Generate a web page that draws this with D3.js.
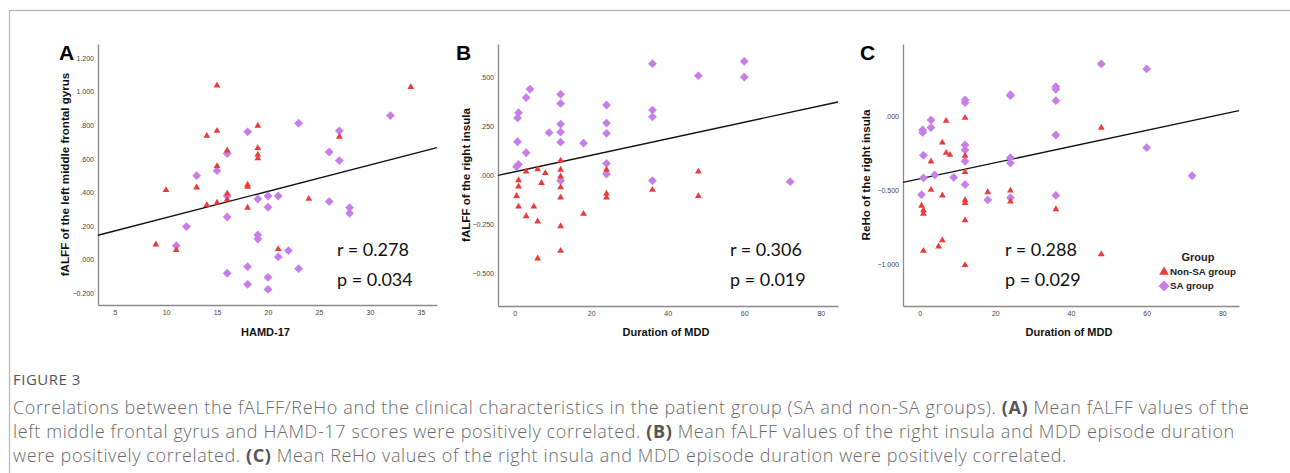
<!DOCTYPE html>
<html>
<head>
<meta charset="utf-8">
<script src="https://cdn.jsdelivr.net/npm/d3@7"></script>
<style>
  body { margin: 0; background: #fff; }
  svg { display: block; }
</style>
</head>
<body>
<svg id="fig" width="1290" height="473"></svg>
<script>
// panel A : HAMD-17 vs fALFF left middle frontal gyrus
let aNonSA = [[15,1.04],[34,1.03],[19,0.80],[15,0.77],[14,0.74],[27,0.735],[16,0.653],[19,0.667],
              [19,0.628],[19,0.606],[15,0.56],[10,0.417],[13,0.433],[18,0.449],[18,0.437],[16,0.397],
              [16,0.361],[14,0.328],[15,0.342],[18,0.312],[24,0.365],[9,0.093],[11,0.06],[21,0.066]]
let aSA = [[32,0.858],[23,0.812],[18,0.761],[27,0.767],[16,0.632],[26,0.641],[27,0.59],[13,0.5],
           [15,0.53],[16,0.379],[19,0.361],[20,0.379],[21,0.379],[20,0.312],[26,0.346],[28,0.31],
           [28,0.276],[16,0.254],[12,0.197],[11,0.083],[19,0.147],[19,0.123],[22,0.054],[21,0.016],
           [23,-0.054],[18,-0.042],[16,-0.081],[20,-0.105],[18,-0.147],[20,-0.177]]

// panel B : duration of MDD vs fALFF right insula
let bNonSA = [[12,0.078],[12,0.031],[12,-0.003],[12,-0.058],[12,-0.11],[12,-0.256],[12,-0.381],
              [3,0.022],[6,0.034],[8,0.014],[7,-0.036],[1,-0.022],[1,-0.054],[0.5,-0.102],[1,-0.156],
              [5,-0.156],[3,-0.205],[6,-0.232],[6,-0.42],[18,-0.193],[24,0.031],[24,-0.09],[24,-0.11],
              [36,-0.071],[48,0.022],[48,-0.103]]
let bSA = [[36,0.568],[60,0.58],[60,0.5],[48,0.507],[4,0.439],[3,0.395],[12,0.412],[12,0.366],
           [1,0.319],[0.75,0.292],[24,0.358],[36,0.332],[36,0.298],[12,0.261],[24,0.266],[9,0.217],
           [12,0.22],[24,0.214],[0.75,0.171],[12,0.169],[18,0.164],[3,0.115],[24,0.061],[1,0.056],
           [0.5,0.044],[24,0.007],[12,-0.027],[36,-0.027],[72,-0.032]]

// panel C : duration of MDD vs ReHo right insula
let cNonSA = [[12,-0.005],[7,-0.025],[48,-0.072],[6,-0.172],[7,-0.242],[8,-0.255],[12,-0.262],
              [3,-0.3],[12,-0.372],[3,-0.492],[6,-0.53],[18,-0.508],[24,-0.497],[24,-0.571],
              [12,-0.562],[12,-0.582],[0.5,-0.6],[1,-0.63],[1,-0.655],[36,-0.623],[12,-0.698],
              [6,-0.833],[5,-0.876],[1,-0.905],[48,-0.928],[12,-1.002]]
let cSA = [[48,0.357],[60,0.323],[36,0.203],[36,0.185],[24,0.149],[24,0.142],[12,0.113],[12,0.095],
           [36,0.108],[3,-0.023],[3,-0.074],[0.8,-0.09],[0.8,-0.108],[36,-0.124],[12,-0.192],
           [12,-0.226],[60,-0.21],[1,-0.262],[24,-0.278],[24,-0.314],[12,-0.302],[4,-0.395],
           [1,-0.415],[9,-0.411],[72,-0.4],[12,-0.46],[0.5,-0.528],[36,-0.533],[18,-0.564],[24,-0.549]]

// fit lines [intercept, slope]
let aFit = [0.093, 0.0157]
let bFit = [0.0183, 0.0042]
let cFit = [-0.421, 0.00547]

let aXTicks = [5, 10, 15, 20, 25, 30, 35]
let aYTicks = [-0.2, 0, 0.2, 0.4, 0.6, 0.8, 1.0, 1.2]
let bXTicks = [0, 20, 40, 60, 80]
let bYTicks = [-0.5, -0.25, 0, 0.25, 0.5]
let cXTicks = [0, 20, 40, 60, 80]
let cYTicks = [-1.0, -0.5, 0]

let stats = [["r = 0.278", "p = 0.034"], ["r = 0.306", "p = 0.019"], ["r = 0.288", "p = 0.029"]]

let red = "#ef3a3c"
let purple = "#c77ee8"

let svg = d3.select("#fig")

// figure frame
svg.append("rect")
   .attr("x", 9.5).attr("y", 10.5)
   .attr("width", 1400).attr("height", 600)
   .attr("fill", "none").attr("stroke", "#b5b5b5").attr("stroke-width", 1.2)

// SPSS style number format: .200, -.250, 1.000
let spss = (d) => {
    let s = d3.format(".3f")(d)
    return s.replace(/^0\./, ".").replace(/^-0\./, "-.")
}

let panels = [
    {label: "A", nonSA: aNonSA, sa: aSA, fit: aFit, xt: aXTicks, yt: aYTicks,
     left: 98, right: 437, top: 44, bottom: 305, xd: [3.33, 36.57], yd: [-0.27, 1.284],
     ytitle: "fALFF of the left middle frontal gyrus", xtitle: "HAMD-17",
     labelX: 59, ytitleX: 69, statX: 337},
    {label: "B", nonSA: bNonSA, sa: bSA, fit: bFit, xt: bXTicks, yt: bYTicks,
     left: 498, right: 838, top: 44, bottom: 306, xd: [-4.36, 84.5], yd: [-0.664, 0.668],
     ytitle: "fALFF of the right insula", xtitle: "Duration of MDD",
     labelX: 456, ytitleX: 470, statX: 730},
    {label: "C", nonSA: cNonSA, sa: cSA, fit: cFit, xt: cXTicks, yt: cYTicks,
     left: 903, right: 1239, top: 44, bottom: 306, xd: [-4.4, 84.4], yd: [-1.282, 0.492],
     ytitle: "ReHo of the right insula", xtitle: "Duration of MDD",
     labelX: 860, ytitleX: 870, statX: 1005}
]

let triangle = d3.symbol().type(d3.symbolTriangle).size(20)
let diamond = (r) => "M0," + (-r) + "L" + r + ",0L0," + r + "L" + (-r) + ",0Z"

let drawPanel = (p, i) => {
    let x = d3.scaleLinear().domain(p.xd).range([p.left, p.right])
    let y = d3.scaleLinear().domain(p.yd).range([p.bottom, p.top])
    let g = svg.append("g")

    let xAxis = d3.axisBottom(x).tickValues(p.xt).tickSize(0).tickPadding(5)
    let yAxis = d3.axisLeft(y).tickValues(p.yt).tickSize(0).tickPadding(4).tickFormat(spss)

    let gx = g.append("g")
              .attr("transform", "translate(0," + p.bottom + ")")
              .call(xAxis)
    let gy = g.append("g")
              .attr("transform", "translate(" + p.left + ",0)")
              .call(yAxis)
    ;[gx, gy].forEach((ax) => {
        ax.select(".domain").attr("stroke", "#8a8a8a").attr("stroke-width", 1.3)
        ax.selectAll("text")
          .attr("font-family", "Arial, 'Liberation Sans', sans-serif")
          .attr("font-size", 7).attr("fill", "#444")
    })

    // regression line
    g.append("line")
     .attr("x1", x(p.xd[0])).attr("y1", y(p.fit[0] + p.fit[1] * p.xd[0]))
     .attr("x2", x(p.xd[1])).attr("y2", y(p.fit[0] + p.fit[1] * p.xd[1]))
     .attr("stroke", "#111").attr("stroke-width", 1.4)

    g.selectAll(".sa")
     .data(p.sa)
     .enter()
     .append("path")
     .attr("class", "sa")
     .attr("d", diamond(4.4))
     .attr("fill", purple)
     .attr("transform", (d) => "translate(" + x(d[0]) + "," + y(d[1]) + ")")

    g.selectAll(".nonsa")
     .data(p.nonSA)
     .enter()
     .append("path")
     .attr("class", "nonsa")
     .attr("d", triangle)
     .attr("fill", red)
     .attr("transform", (d) => "translate(" + x(d[0]) + "," + (y(d[1]) + 0.5) + ")")

    // panel letter
    g.append("text")
     .attr("x", p.labelX).attr("y", 60)
     .attr("font-family", "Arial, 'Liberation Sans', sans-serif")
     .attr("font-weight", "bold").attr("font-size", 21)
     .text(p.label)

    // axis titles
    g.append("text")
     .attr("transform", "translate(" + p.ytitleX + "," + ((p.top + p.bottom) / 2) + ") rotate(-90)")
     .attr("text-anchor", "middle")
     .attr("font-family", "Arial, 'Liberation Sans', sans-serif")
     .attr("font-weight", "bold").attr("font-size", 11.6).attr("fill", "#111")
     .text(p.ytitle)

    g.append("text")
     .attr("x", (p.left + p.right) / 2 - 2).attr("y", 336)
     .attr("text-anchor", "middle")
     .attr("font-family", "Arial, 'Liberation Sans', sans-serif")
     .attr("font-weight", "bold").attr("font-size", 11).attr("fill", "#111")
     .text(p.xtitle)

    // r and p
    stats[i].forEach((s, k) => {
        g.append("text")
         .attr("x", p.statX).attr("y", 256 + k * 30)
         .attr("font-family", "Lato, 'Open Sans', sans-serif")
         .attr("font-size", 18).attr("fill", "#111")
         .text(s)
    })
}

panels.forEach(drawPanel)

// legend (panel C)
let leg = svg.append("g")
leg.append("text")
   .attr("x", 1198).attr("y", 261)
   .attr("text-anchor", "middle")
   .attr("font-family", "Arial, 'Liberation Sans', sans-serif")
   .attr("font-weight", "bold").attr("font-size", 11).attr("fill", "#222")
   .text("Group")
leg.append("path")
   .attr("d", d3.symbol().type(d3.symbolTriangle).size(40))
   .attr("fill", red)
   .attr("transform", "translate(1164,272)")
leg.append("path")
   .attr("d", diamond(5.5))
   .attr("fill", purple)
   .attr("transform", "translate(1164,286)")
;[["Non-SA group", 275], ["SA group", 289]].forEach((t) => {
    leg.append("text")
       .attr("x", 1170).attr("y", t[1])
       .attr("font-family", "Arial, 'Liberation Sans', sans-serif")
       .attr("font-weight", "600").attr("font-size", 9.8).attr("fill", "#222")
       .text(t[0])
})

// caption
svg.append("text")
   .attr("x", 13).attr("y", 385)
   .attr("font-family", "'Open Sans', sans-serif")
   .attr("font-size", 15).attr("letter-spacing", 0.5).attr("fill", "#555")
   .text("FIGURE 3")

let captionLines = [
    [["Correlations between the fALFF/ReHo and the clinical characteristics in the patient group (SA and non-SA groups). ", 0], ["(A)", 1], [" Mean fALFF values of the", 0]],
    [["left middle frontal gyrus and HAMD-17 scores were positively correlated. ", 0], ["(B)", 1], [" Mean fALFF values of the right insula and MDD episode duration", 0]],
    [["were positively correlated. ", 0], ["(C)", 1], [" Mean ReHo values of the right insula and MDD episode duration were positively correlated.", 0]]
]
captionLines.forEach((line, i) => {
    let t = svg.append("text")
               .attr("x", 13).attr("y", 414 + i * 24)
               .attr("font-family", "'Open Sans', sans-serif")
               .attr("font-size", 18).attr("letter-spacing", 0.62)
               .attr("fill", "#6a6a6a")
               .attr("font-weight", 300)
    line.forEach((part) => {
        t.append("tspan")
         .attr("font-weight", part[1] ? 700 : 300)
         .attr("fill", part[1] ? "#555" : "#6a6a6a")
         .text(part[0])
    })
})
</script>
</body>
</html>
